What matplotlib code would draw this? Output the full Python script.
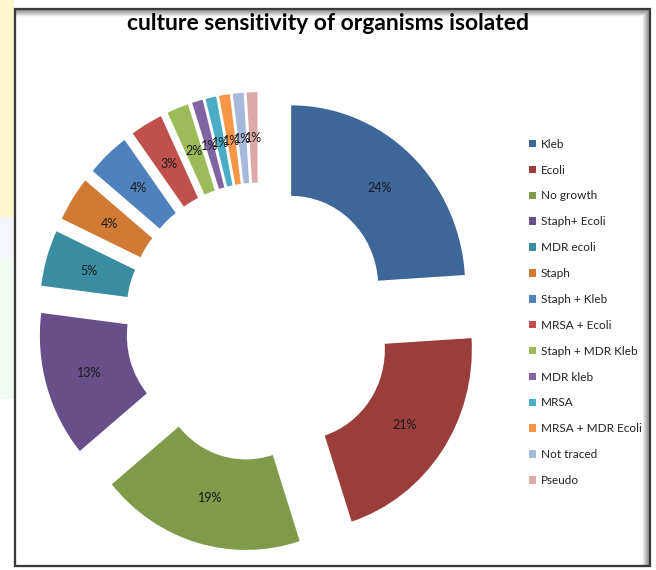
import numpy as np
import matplotlib.pyplot as plt
from matplotlib.patches import Rectangle

# --- data ---
organisms = ["Kleb", "Ecoli", "No growth", "Staph+ Ecoli", "MDR ecoli", "Staph",
             "Staph + Kleb", "MRSA + Ecoli", "Staph + MDR Kleb", "MDR kleb",
             "MRSA", "MRSA + MDR Ecoli", "Not traced", "Pseudo"]
percent = [24, 21, 19, 13, 5, 4, 4, 3, 2, 1, 1, 1, 1, 1]

colors = ["#3D6699", "#9B3D3B", "#7F9A48", "#674F89", "#3A8CA1", "#D07A34",
          "#4F81BD", "#C0504D", "#9BBB59", "#8064A2", "#4BACC6", "#F79646",
          "#A7B9DB", "#DCA9A8"]

W, H = 656, 570
fig = plt.figure(figsize=(W / 100, H / 100), dpi=100)
fig.patch.set_facecolor("white")

# faint watermark colours on the far left
for (ya, yb, c) in [(0.62, 1.0, "#FFF6CC"), (0.55, 0.62, "#F4F6FB"),
                    (0.30, 0.55, "#F2FBF2")]:
    fig.patches.append(Rectangle((0, ya), 14 / W, yb - ya, transform=fig.transFigure,
                                 facecolor=c, edgecolor="none", zorder=0))

ax = fig.add_axes([0, 0, 1, 1])
sx, sy = 174.0, 181.0   # pixels per unit radius (picture is slightly stretched)
cx, cy = 259, 322       # donut centre in pixels (from top-left)

wedges, texts, autotexts = ax.pie(
    percent, colors=colors, startangle=90, counterclock=False,
    explode=[0.27] * len(percent), radius=1.0,
    wedgeprops=dict(width=0.5, edgecolor="none"),
    autopct="%.0f%%", pctdistance=0.745,
    textprops=dict(fontsize=9, color="#1a1a1a", family="Lato"))

ax.set_xlim(-cx / sx, (W - cx) / sx)
ax.set_ylim(-(H - cy) / sy, cy / sy)
ax.set_aspect("auto")
ax.axis("off")

# title
fig.text(328 / W, 1 - 23 / H, "culture sensitivity of organisms isolated",
         ha="center", va="center", fontsize=16.5, fontweight="bold", family="Lato")

# legend
leg = fig.legend(wedges, organisms, loc="upper left",
                 bbox_to_anchor=(524 / W, 1 - 134 / H), frameon=False,
                 prop=dict(family="Lato", size=8.5),
                 handlelength=0.6, handleheight=0.6, handletextpad=0.4,
                 labelspacing=1.26, borderaxespad=0)
for t in leg.get_texts():
    t.set_color("#222222")

# frame with soft inner shadow
x0, y0, x1, y1 = 15, 9, 650, 566
for i, a in enumerate(np.linspace(0.02, 0.25, 7)):
    k = 7 - i
    fig.patches.append(Rectangle((x0 / W, 1 - y1 / H),
                                 (x1 - x0 - k) / W, (y1 - y0 - k) / H,
                                 transform=fig.transFigure, fill=False,
                                 edgecolor="black", alpha=a, linewidth=1.5,
                                 zorder=5))
fig.patches.append(Rectangle((x0 / W, 1 - y1 / H), (x1 - x0) / W, (y1 - y0) / H,
                             transform=fig.transFigure, fill=False,
                             edgecolor="#3a3a3a", linewidth=1.6, zorder=6))

fig.savefig("out.png", dpi=100)
